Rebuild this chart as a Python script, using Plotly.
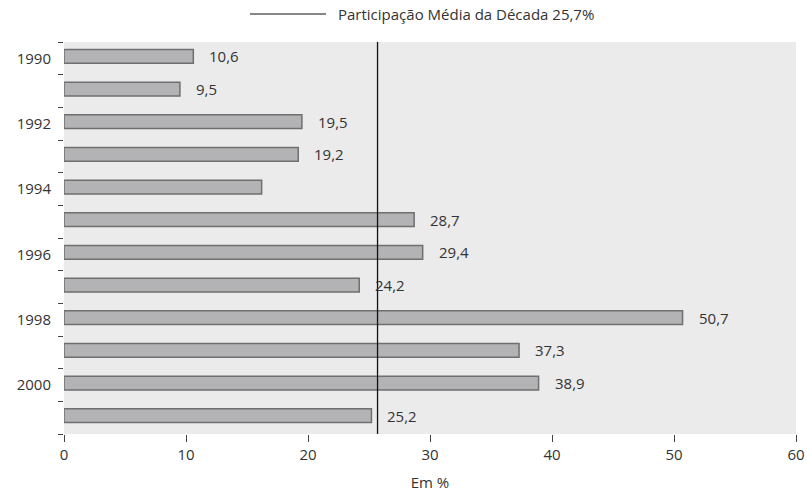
import plotly.graph_objects as go

# Share per year (%), 1990-2001
years = [1990, 1991, 1992, 1993, 1994, 1995, 1996, 1997, 1998, 1999, 2000, 2001]
values = [10.6, 9.5, 19.5, 19.2, 16.2, 28.7, 29.4, 24.2, 50.7, 37.3, 38.9, 25.2]
# years whose bar carries a value label
labelled = [True, True, True, True, False, True, True, True, True, True, True, True]

decade_mean = 25.7
mean_label = "Participação Média da Década 25,7%"
year_ticks = [1990, 1992, 1994, 1996, 1998, 2000]
x_ticks = [0, 10, 20, 30, 40, 50, 60]
x_title = "Em %"

FONT = "Open Sans"
TEXT = "#333333"
FS = 15


def fmt(v):
    return f"{v:.1f}".replace(".", ",")


fig = go.Figure()

fig.add_trace(go.Bar(
    x=values,
    y=years,
    orientation="h",
    width=0.42,
    offset=-0.27,
    marker=dict(color="#b3b3b5", line=dict(color="#6f6f6f", width=1.5)),
    hoverinfo="x+y",
    showlegend=False,
))

# decade average as a vertical rule across the plot
fig.add_trace(go.Scatter(
    x=[decade_mean, decade_mean],
    y=[years[0] - 0.5, years[-1] + 0.5],
    mode="lines",
    line=dict(color="#111111", width=1.3),
    showlegend=False,
    hoverinfo="skip",
))

for y, v, show in zip(years, values, labelled):
    if show:
        fig.add_annotation(
            x=v, y=y - 0.06, text=fmt(v),
            xanchor="left", yanchor="middle", xshift=14,
            showarrow=False,
            font=dict(family=FONT, size=FS, color=TEXT),
        )

# legend entry for the average line
fig.add_shape(
    type="line", xref="paper", yref="paper",
    x0=(250 - 64) / 732, x1=(326 - 64) / 732,
    y0=1 + 28 / 392, y1=1 + 28 / 392,
    line=dict(color="#111111", width=1.2),
)
fig.add_annotation(
    xref="paper", yref="paper",
    x=(336 - 64) / 732, y=1 + 28 / 392,
    text=mean_label, xanchor="left", yanchor="middle",
    showarrow=False,
    font=dict(family=FONT, size=FS, color=TEXT),
)

fig.update_layout(
    width=807, height=494,
    margin=dict(l=64, r=11, t=42, b=60, autoexpand=False),
    paper_bgcolor="white",
    plot_bgcolor="#ebebec",
    font=dict(family=FONT, size=FS, color=TEXT),
    xaxis=dict(
        range=[0, 60],
        tickvals=x_ticks,
        ticktext=[str(t) for t in x_ticks],
        ticks="outside", ticklen=7, tickwidth=1, tickcolor="#444444",
        showgrid=False, zeroline=False, showline=False,
        automargin=False,
        title=dict(text=x_title, standoff=14, font=dict(size=FS)),
        tickfont=dict(size=FS),
    ),
    yaxis=dict(
        range=[years[-1] + 0.5, years[0] - 0.5],
        tickvals=year_ticks,
        ticktext=[str(t) for t in year_ticks],
        ticks="", showgrid=False, zeroline=False, showline=False,
        automargin=False,
        ticklabelstandoff=12,
        tickfont=dict(size=FS),
        minor=dict(
            tick0=years[0] - 0.5, dtick=1,
            ticks="outside", ticklen=5, tickwidth=1, tickcolor="#444444",
            showgrid=False,
        ),
    ),
)

fig.write_html("out.html")
